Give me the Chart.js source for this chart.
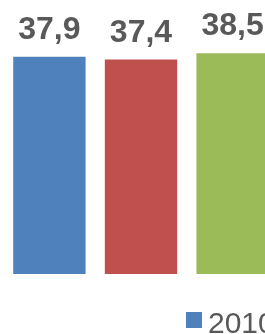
<!DOCTYPE html>
<html>
<head>
<meta charset="utf-8">
<script src="https://cdn.jsdelivr.net/npm/chart.js@4/dist/chart.umd.min.js"></script>
<style>
  html, body { margin:0; padding:0; background:#fff; width:265px; height:334px; overflow:hidden; }
  #wrap { width:282px; height:334px; }
</style>
</head>
<body>
<div id="wrap"><canvas id="c" width="282" height="334"></canvas></div>
<script>
// ── DATA ─────────────────────────────
const categories   = [''];
const seriesLabels = ['2010', '2011', '2012'];
const seriesValues = [37.9, 37.4, 38.5];
const seriesColors = ['#4F81BD', '#C0504D', '#9BBB59'];

const TEXT_C = '#595959';
const FONT   = '"Liberation Sans", Arial, sans-serif';
const fmtVal = v => v.toFixed(1).replace('.', ',');

// value labels above each bar
const valueLabels = {
  id: 'valueLabels',
  afterDatasetsDraw(chart) {
    const ctx = chart.ctx;
    ctx.save();
    ctx.font = `bold 32px ${FONT}`;
    ctx.fillStyle = TEXT_C;
    ctx.textAlign = 'center';
    ctx.textBaseline = 'alphabetic';
    chart.data.datasets.forEach((ds, i) => {
      chart.getDatasetMeta(i).data.forEach((bar, j) => {
        ctx.fillText(fmtVal(ds.data[j]), bar.x, bar.y - 18);
      });
    });
    ctx.restore();
  }
};

// excel-like legend (box close to text)
const xlLegend = {
  id: 'xlLegend',
  afterDraw(chart) {
    const ctx = chart.ctx;
    ctx.save();
    ctx.font = `30px ${FONT}`;
    ctx.textBaseline = 'alphabetic';
    let x = 186;
    const y = chart.chartArea.bottom + 46;
    chart.data.datasets.forEach(ds => {
      ctx.fillStyle = ds.backgroundColor;
      ctx.fillRect(x, y - 8, 16, 16);
      ctx.fillStyle = TEXT_C;
      ctx.fillText(ds.label, x + 22, y + 12.5);
      x += 22 + ctx.measureText(ds.label).width + 24;
    });
    ctx.restore();
  }
};

new Chart(document.getElementById('c'), {
  type: 'bar',
  data: {
    labels: categories,
    datasets: seriesLabels.map((lab, i) => ({
      label: lab,
      data: [seriesValues[i]],
      backgroundColor: seriesColors[i],
      borderWidth: 0,
      categoryPercentage: 0.9745,
      barPercentage: 0.79
    }))
  },
  options: {
    responsive: false,
    animation: false,
    layout: { padding: { top: 16, bottom: 60, left: 0, right: 0 } },
    plugins: { legend: { display: false }, tooltip: { enabled: false } },
    scales: {
      x: { display: false },
      y: { display: false, min: 0, max: 45 }
    }
  },
  plugins: [valueLabels, xlLegend]
});
</script>
</body>
</html>
